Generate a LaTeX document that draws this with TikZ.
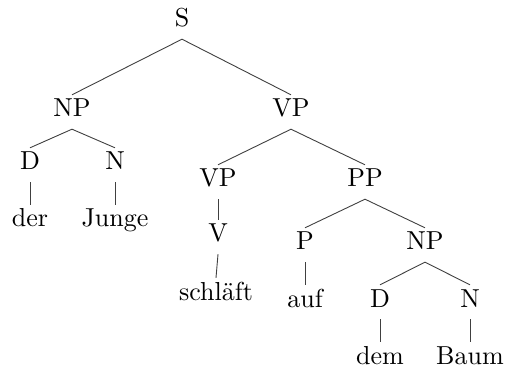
\documentclass[tikz,border=0pt]{standalone}
\usepackage{fontspec}
\setmainfont{lmroman10-regular.otf}
\begin{document}
\begin{tikzpicture}[x=1pt,y=-1pt,
  lab/.style={anchor=base,inner sep=4pt,text height=18pt,text depth=8pt,
    font=\fontsize{26}{31}\selectfont},
  edge/.style={draw=black!75,line width=0.9pt}]
\useasboundingbox (0,0) rectangle (506,374);
\node[lab] (S) at (182,27) {S};
\node[lab] (NP) at (72,117) {NP};
\node[lab] (D) at (30,170) {D};
\node[lab] (N) at (115,170) {N};
\node[lab] (der) at (30,227) {der};
\node[lab] (Junge) at (115,227) {Junge};
\node[lab] (VP) at (291,117) {VP};
\node[lab] (VPb) at (218,187) {VP};
\node[lab] (V) at (218,242) {V};
\node[lab] (schlaeft) at (216,300) {schläft};
\node[lab] (PP) at (365,187) {PP};
\node[lab] (P) at (305,250) {P};
\node[lab] (auf) at (305,307) {auf};
\node[lab] (NPb) at (425,250) {NP};
\node[lab] (Db) at (380,307) {D};
\node[lab] (Nb) at (470,307) {N};
\node[lab] (dem) at (380,364) {dem};
\node[lab] (Baum) at (470,364) {Baum};
\draw[edge] (NP.north) -- (S.south) -- (VP.north);
\draw[edge] (D.north) -- (NP.south) -- (N.north);
\draw[edge] (D.south) -- (der.north);
\draw[edge] (N.south) -- (Junge.north);
\draw[edge] (VPb.north) -- (VP.south) -- (PP.north);
\draw[edge] (VPb.south) -- (V.north);
\draw[edge] (V.south) -- (schlaeft.north);
\draw[edge] (P.north) -- (PP.south) -- (NPb.north);
\draw[edge] (P.south) -- (auf.north);
\draw[edge] (Db.north) -- (NPb.south) -- (Nb.north);
\draw[edge] (Db.south) -- (dem.north);
\draw[edge] (Nb.south) -- (Baum.north);
\end{tikzpicture}
\end{document}
